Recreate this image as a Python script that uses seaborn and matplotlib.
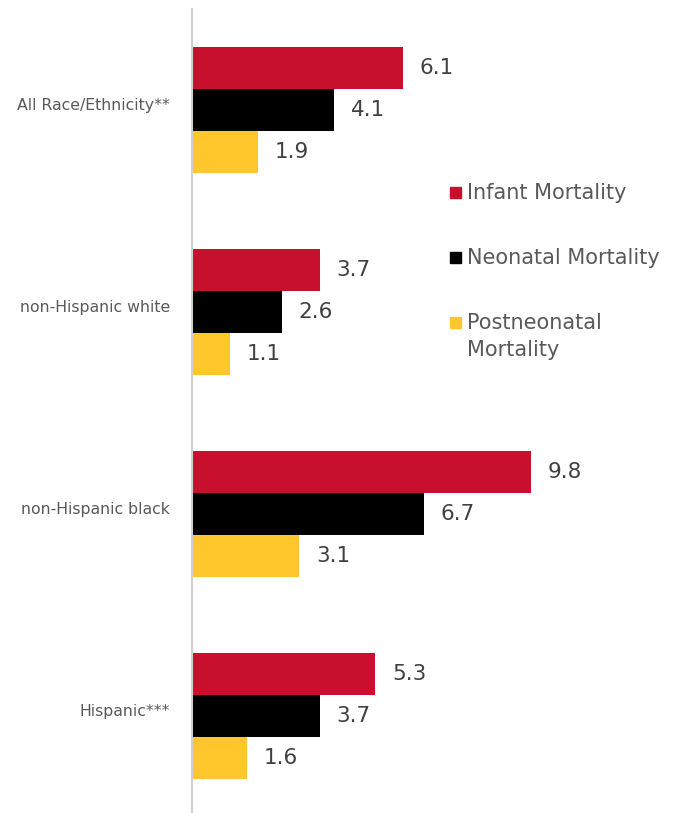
import matplotlib
matplotlib.use("Agg")
import matplotlib.pyplot as plt
import matplotlib.transforms as mtransforms
import seaborn as sns
import pandas as pd

categories = ["All Race/Ethnicity**", "non-Hispanic white", "non-Hispanic black", "Hispanic***"]
series_names = ["Infant Mortality", "Neonatal Mortality", "Postneonatal Mortality"]
legend_labels = ["Infant Mortality", "Neonatal Mortality", "Postneonatal\nMortality"]
infant = [6.1, 3.7, 9.8, 5.3]
neonatal = [4.1, 2.6, 6.7, 3.7]
postneonatal = [1.9, 1.1, 3.1, 1.6]
colors = ["#C8102E", "#000000", "#FFC72C"]

rows = []
for name, vals in zip(series_names, [infant, neonatal, postneonatal]):
    for c, v in zip(categories, vals):
        rows.append({"group": c, "measure": name, "rate": v})
df = pd.DataFrame(rows)

sns.set_style("white")
plt.rcParams["font.family"] = ["DejaVu Sans"]

fig = plt.figure(figsize=(6.8, 8.13), dpi=100)
ax = fig.add_axes([192 / 680, 0, 0.712, 804 / 813])

sns.barplot(data=df, y="group", x="rate", hue="measure", order=categories,
            hue_order=series_names, palette=colors, orient="h", width=0.624,
            saturation=1, ax=ax, legend=False, linewidth=0)

ax.set_xlim(0, 14)
ax.set_ylim(3.48, -0.5)

for cont in ax.containers:
    ax.bar_label(cont, labels=[f"{v:.1f}" for v in cont.datavalues],
                 padding=12, fontsize=15.5, color="#404040")

ax.set_xlabel("")
ax.set_ylabel("")
ax.set_xticks([])
ax.tick_params(axis="y", length=0, pad=16, labelsize=11.3, labelcolor="#595959")
offset = mtransforms.ScaledTranslation(0, 6 / 100, fig.dpi_scale_trans)
for lab in ax.get_yticklabels():
    lab.set_transform(lab.get_transform() + offset)

for s in ["top", "right", "bottom"]:
    ax.spines[s].set_visible(False)
ax.spines["left"].set_color("#d0d0d0")
ax.spines["left"].set_linewidth(1.5)

# legend
ys = [193, 258, 323]
for lab, col, y in zip(legend_labels, colors, ys):
    fy = 1 - y / 813
    fig.patches.append(plt.Rectangle((450 / 680, fy - 5.5 / 813), 11 / 680, 11 / 813,
                                     transform=fig.transFigure, color=col, figure=fig))
    if "\n" in lab:
        fig.text(467 / 680, 1 - 313 / 813, lab, fontsize=15, color="#595959",
                 va="top", ha="left", linespacing=1.42)
    else:
        fig.text(467 / 680, fy, lab, fontsize=15, color="#595959",
                 va="center", ha="left")

fig.savefig("out.png", dpi=100)
